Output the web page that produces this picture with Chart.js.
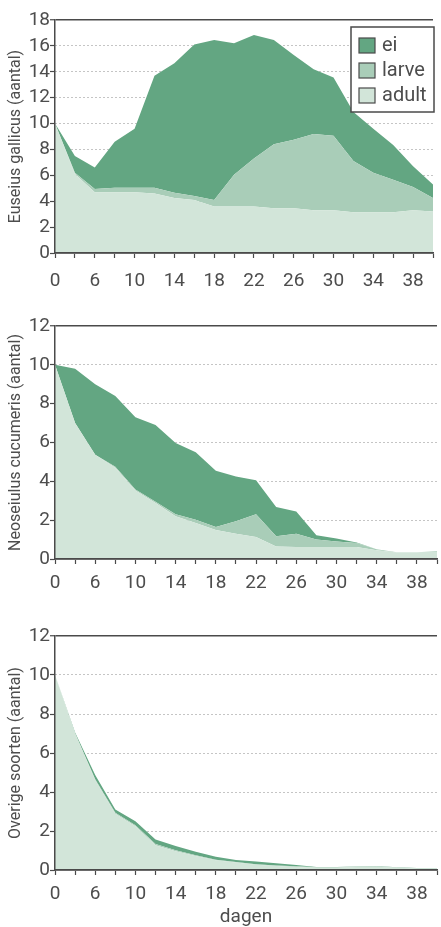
<!DOCTYPE html>
<html>
<head>
<meta charset="utf-8">
<script src="https://cdn.jsdelivr.net/npm/chart.js@4"></script>
<style>
  html, body { margin: 0; padding: 0; background: #fff; overflow: hidden; }
  #wrap { position: relative; width: 441px; height: 927px; overflow: hidden; }
  #wrap canvas { position: absolute; left: 0; }
</style>
</head>
<body>
<div id="wrap">
  <canvas id="grafiek1" width="445" height="290" style="top:0px"></canvas>
  <canvas id="grafiek2" width="445" height="290" style="top:306px"></canvas>
  <canvas id="grafiek3" width="445" height="311" style="top:616px"></canvas>
</div>
<script>
// dagen (categorie-as) en de getoonde labels
const dagen = ['0', '3', '6', '8', '10', '12', '14', '16', '18', '20', '22', '24', '26', '28', '30', '32', '34', '36', '38', '40'];
const xTickLabels = ['0', '6', '10', '14', '18', '22', '26', '30', '34', '38'];

// Euseius gallicus (aantal per stadium)
const gallicusAdult = [10, 6.1, 4.7, 4.7, 4.7, 4.6, 4.25, 4.1, 3.6, 3.6, 3.6, 3.45, 3.45, 3.3, 3.3, 3.15, 3.15, 3.15, 3.3, 3.2];
const gallicusLarve = [0, 0.1, 0.25, 0.35, 0.35, 0.45, 0.4, 0.3, 0.5, 2.45, 3.7, 4.95, 5.3, 5.9, 5.75, 3.95, 3.05, 2.5, 1.8, 1.05];
const gallicusEi = [0, 1.3, 1.65, 3.55, 4.55, 8.65, 10.0, 11.7, 12.35, 10.15, 9.55, 8.05, 6.55, 5.0, 4.5, 3.8, 3.4, 2.7, 1.6, 1.05];

// Neoseiulus cucumeris
const cucumerisAdult = [10, 7.0, 5.37, 4.7, 3.53, 2.88, 2.2, 1.85, 1.5, 1.3, 1.13, 0.65, 0.62, 0.62, 0.62, 0.62, 0.45, 0.33, 0.33, 0.33];
const cucumerisLarve = [0, 0, 0, 0.05, 0.05, 0.07, 0.1, 0.17, 0.15, 0.64, 1.17, 0.52, 0.68, 0.38, 0.28, 0.2, 0.05, 0.02, 0.02, 0.07];
const cucumerisEi = [0, 2.8, 3.63, 3.65, 3.72, 3.95, 3.67, 3.48, 2.9, 2.31, 1.75, 1.51, 1.15, 0.22, 0.15, 0.03, 0, 0, 0, 0];

// Overige soorten
const overigAdult = [10, 7.0, 4.6, 2.88, 2.25, 1.27, 0.96, 0.72, 0.5, 0.38, 0.27, 0.2, 0.16, 0.12, 0.12, 0.15, 0.17, 0.12, 0.08, 0.08];
const overigLarve = [0, 0, 0.05, 0.05, 0.05, 0.06, 0.05, 0.04, 0.03, 0.03, 0.03, 0.03, 0.03, 0.02, 0.02, 0.02, 0.02, 0.01, 0.01, 0.01];
const overigEi = [0, 0.05, 0.22, 0.17, 0.2, 0.24, 0.22, 0.18, 0.15, 0.1, 0.13, 0.11, 0.07, 0.01, 0.01, 0.01, 0.01, 0.01, 0.01, 0.01];

const kleuren = { ei: '#63a682', larve: '#a9cdb8', adult: '#d2e5d9' };
const fam = "Roboto, sans-serif";
const tekstKleur = '#4d4d4d';
const asKleur = '#4a4a4a';

// legenda-kader binnen het plotvlak (alleen bovenste grafiek)
const legendaKader = {
    id: 'legendaKader',
    afterDraw(chart, args, opts) {
        if (!opts.show) return;
        const ctx = chart.ctx;
        const x = opts.x, y = opts.y;
        ctx.save();
        ctx.fillStyle = '#fff';
        ctx.fillRect(x, y, opts.w, opts.h);
        ctx.strokeStyle = asKleur;
        ctx.lineWidth = 1.5;
        ctx.strokeRect(x, y, opts.w, opts.h);
        ctx.font = '20px ' + fam;
        ctx.textBaseline = 'middle';
        const items = chart.data.datasets.slice().reverse();
        items.forEach(function (ds, i) {
            const sy = y + 11 + i * 25;
            ctx.fillStyle = ds.backgroundColor;
            ctx.fillRect(x + 8, sy, 16, 15);
            ctx.lineWidth = 1.2;
            ctx.strokeStyle = asKleur;
            ctx.strokeRect(x + 8, sy, 16, 15);
            ctx.fillStyle = tekstKleur;
            ctx.fillText(ds.label, x + 31, sy + 8);
        });
        ctx.restore();
    }
};

function maakGrafiek(id, titel, yMax, adult, larve, ei, metXTitel, legenda, labelAfstand) {
    const canvas = document.getElementById(id);
    new Chart(canvas.getContext('2d'), {
        type: 'line',
        data: {
            labels: dagen,
            datasets: [
                { label: 'adult', data: adult, backgroundColor: kleuren.adult, fill: 'origin' },
                { label: 'larve', data: larve, backgroundColor: kleuren.larve, fill: '-1' },
                { label: 'ei', data: ei, backgroundColor: kleuren.ei, fill: '-1' }
            ]
        },
        options: {
            responsive: false,
            animation: false,
            elements: { point: { radius: 0 }, line: { borderWidth: 0, tension: 0 } },
            layout: { padding: { top: 20, left: 0, right: 0, bottom: 0 } },
            scales: {
                x: {
                    type: 'category',
                    ticks: {
                        autoSkip: false, maxRotation: 0, color: tekstKleur, padding: labelAfstand,
                        font: { family: fam, size: 19 },
                        callback: function (v) {
                            const l = this.getLabelForValue(v);
                            return xTickLabels.includes(l) ? l : '';
                        }
                    },
                    grid: { drawOnChartArea: false, tickLength: 5, tickColor: asKleur, tickWidth: 1.2 },
                    border: { color: asKleur, width: 1.5, z: 1 },
                    title: { display: metXTitel, text: 'dagen', color: tekstKleur, font: { family: fam, size: 19, lineHeight: 1 }, padding: 0 },
                    afterFit: function (s) { s.height = metXTitel ? 57 : 37; }
                },
                y: {
                    stacked: true, min: 0, max: yMax,
                    ticks: { stepSize: 2, autoSkip: false, color: tekstKleur, padding: 0, font: { family: fam, size: 19 } },
                    grid: {
                        color: ctx => (ctx.tick && ctx.tick.value === yMax) ? asKleur : '#8a8a8a',
                        lineWidth: ctx => (ctx.tick && ctx.tick.value === yMax) ? 1.5 : 1,
                        tickLength: 5, tickColor: asKleur, tickWidth: 1.2
                    },
                    border: {
                        color: asKleur, width: 1.5, z: 1,
                        dash: ctx => (ctx.tick && ctx.tick.value > 0 && ctx.tick.value < yMax) ? [1, 3] : []
                    },
                    title: { display: true, text: titel, color: tekstKleur, font: { family: fam, size: 16 }, padding: { top: 6, bottom: 0 } },
                    afterFit: function (s) { s.width = 55; }
                }
            },
            plugins: {
                legend: { display: false },
                tooltip: { enabled: false },
                legendaKader: { show: legenda, x: 351, y: 27, w: 83, h: 85 }
            }
        },
        plugins: [legendaKader]
    });
}

maakGrafiek('grafiek1', 'Euseius gallicus (aantal)', 18, gallicusAdult, gallicusLarve, gallicusEi, false, true, 12);
maakGrafiek('grafiek2', 'Neoseiulus cucumeris (aantal)', 12, cucumerisAdult, cucumerisLarve, cucumerisEi, false, false, 8);
maakGrafiek('grafiek3', 'Overige soorten (aantal)', 12, overigAdult, overigLarve, overigEi, true, false, 8);
</script>
</body>
</html>
